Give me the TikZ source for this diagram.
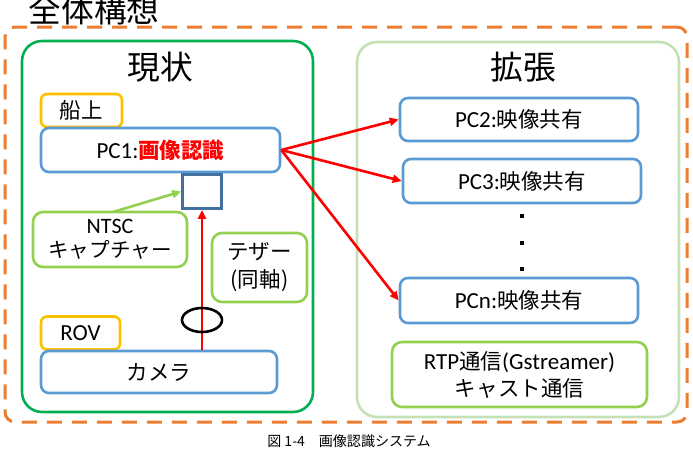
\documentclass[tikz,border=0pt]{standalone}
\usepackage{fontspec}
\setmainfont{Carlito}
\newfontfamily\jp[Scale=0.935]{Noto Sans CJK JP}
\usetikzlibrary{arrows.meta,calc,shapes.geometric}
\definecolor{oorange}{RGB}{237,125,49}
\definecolor{ogreen}{RGB}{0,176,80}
\definecolor{lgreen}{RGB}{146,208,80}
\definecolor{pgreen}{RGB}{197,224,180}
\definecolor{oblue}{RGB}{91,155,213}
\definecolor{dblue}{RGB}{65,113,156}
\definecolor{ogold}{RGB}{255,192,0}
\definecolor{ored}{RGB}{255,0,0}
\begin{document}
\begin{tikzpicture}[x=1pt,y=-1pt,
  bx/.style={draw=#1, line width=2.6pt, rounded corners=8pt, inner sep=0pt, align=center,
    font=\fontsize{23}{26}\selectfont},
  ttl/.style={font=\jp\fontsize{35}{38}\selectfont, inner sep=0pt},
  redarr/.style={draw=ored, line width=2.6pt, -{Triangle[length=9pt,width=8pt]}},
  dotmark/.style={fill=black, minimum size=4pt, inner sep=0pt}
]
\useasboundingbox (0,0) rectangle (693,455);
% outer frame
\node[draw=oorange, line width=3pt, dash pattern=on 15pt off 10pt, rounded corners=10pt,
  minimum width=682pt, minimum height=395pt, inner sep=0pt] (frame) at (346,224.5) {};
\node[ttl, anchor=base] (title) at (94,22) {全体構想};
% left box
\node[bx=ogreen, rounded corners=20pt, minimum width=291pt, minimum height=371pt] (left) at (167.5,226.5) {};
\node[ttl] (lt) at (160,67) {現状};
% right box
\node[bx=pgreen, rounded corners=20pt, minimum width=322pt, minimum height=375pt] (right) at (518,229.5) {};
\node[ttl] (rt) at (523,67) {拡張};
% left content
\node[bx=ogold, rounded corners=6pt, minimum width=81pt, minimum height=33pt] (ship) at (81.5,110.5) {\jp 船上};
\node[bx=oblue, minimum width=239pt, minimum height=44pt] (pc1) at (160.5,150)
  {PC1:{\jp\bfseries\color{ored}画像認識}};
\node[draw=dblue, line width=2.6pt, minimum width=39pt, minimum height=34pt, inner sep=0pt] (sq) at (202,191.5) {};
\node[bx=lgreen, rounded corners=10pt, minimum width=154pt, minimum height=55pt,
  font=\fontsize{22}{24}\selectfont] (ntsc) at (110,239.5) {NTSC\\{\jp キャプチャー}};
\node[bx=lgreen, rounded corners=10pt, minimum width=95pt, minimum height=69pt,
  font=\jp\fontsize{23}{28}\selectfont] (tether) at (259.5,267.5) {テザー\\(同軸)};
\node[bx=ogold, rounded corners=6pt, minimum width=79pt, minimum height=33pt] (rov) at (80.5,333) {ROV};
\node[bx=oblue, minimum width=236pt, minimum height=42pt] (cam) at (159,372) {\jp カメラ};
\draw[redarr] (cam.north -| sq.south) -- (sq.south);
\node[draw=black, line width=2.6pt, ellipse, minimum width=40pt, minimum height=24pt, inner sep=0pt] (ring) at (202,320) {};
\draw[draw=lgreen, line width=2.6pt, -{Triangle[length=9pt,width=8pt]}] (113,212) coordinate (gs) -- (sq.west);
% right content
\node[bx=oblue, minimum width=238pt, minimum height=43pt] (pc2) at (519,119.5) {PC2:{\jp 映像共有}};
\node[bx=oblue, minimum width=238pt, minimum height=44pt] (pc3) at (522,181) {PC3:{\jp 映像共有}};
\node[dotmark] (d1) at (522,216) {};
\node[dotmark] (d2) at (522,243) {};
\node[dotmark] (d3) at (522,269) {};
\node[bx=oblue, minimum width=238pt, minimum height=45pt] (pcn) at (519,300.5) {PCn:{\jp 映像共有}};
\node[bx=lgreen, rounded corners=10pt, minimum width=255pt, minimum height=65pt,
  font=\fontsize{23}{27}\selectfont] (rtp) at (519.5,374.5) {RTP{\jp 通信}(Gstreamer)\\{\jp キャスト通信}};
% red arrows
\draw[redarr] (pc1.east) -- (pc2.west);
\draw[redarr] (pc1.east) -- (pc3.west);
\draw[redarr] (pc1.east) -- (pcn.west);
% caption
\node[font=\jp\fontsize{15}{17}\selectfont, inner sep=0pt] (cap) at (349,441) {図 1-4\quad 画像認識システム};
\end{tikzpicture}
\end{document}
